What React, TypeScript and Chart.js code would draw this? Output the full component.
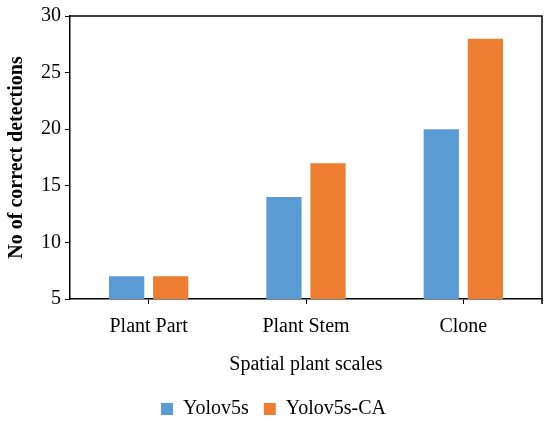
import { useRef, useEffect } from 'react';
import { Chart, registerables, Plugin } from 'chart.js';

Chart.register(...registerables);

const categories = ['Plant Part', 'Plant Stem', 'Clone'];
const yolov5s = [7, 14, 20];
const yolov5sCA = [7, 17, 28];

const FONT = "'Liberation Serif', 'DejaVu Serif', serif";

// box round the plot area (top and right edges)
const frame: Plugin<'bar'> = {
    id: 'frame',
    afterDraw(chart) {
        const { ctx, chartArea } = chart;
        ctx.save();
        ctx.strokeStyle = '#000';
        ctx.lineWidth = 1.5;
        ctx.beginPath();
        ctx.moveTo(chartArea.left, chartArea.top);
        ctx.lineTo(chartArea.right, chartArea.top);
        ctx.lineTo(chartArea.right, chartArea.bottom + 5);
        ctx.stroke();
        ctx.restore();
    },
};

const App = () => {
    const canvasRef = useRef<HTMLCanvasElement | null>(null);
    const chartRef = useRef<Chart<'bar'> | null>(null);

    useEffect(() => {
        document.body.style.margin = '0';
        if (!canvasRef.current) return;
        const ctx = canvasRef.current.getContext('2d');
        if (!ctx) return;

        chartRef.current = new Chart(ctx, {
            type: 'bar',
            data: {
                labels: categories,
                datasets: [
                    {
                        label: 'Yolov5s',
                        data: yolov5s,
                        backgroundColor: '#5B9BD5',
                        categoryPercentage: 0.56,
                        barPercentage: 0.8,
                    },
                    {
                        label: 'Yolov5s-CA',
                        data: yolov5sCA,
                        backgroundColor: '#ED7D31',
                        categoryPercentage: 0.56,
                        barPercentage: 0.8,
                    },
                ],
            },
            options: {
                animation: false,
                responsive: false,
                layout: { padding: { top: 5, right: 8, left: 5, bottom: -4 } },
                plugins: {
                    legend: {
                        position: 'bottom',
                        labels: {
                            boxWidth: 12,
                            boxHeight: 12,
                            color: '#000',
                            padding: 15,
                            font: { family: FONT, size: 20 },
                        },
                    },
                    tooltip: { enabled: false },
                },
                scales: {
                    x: {
                        grid: {
                            display: true,
                            drawOnChartArea: false,
                            offset: false,
                            tickLength: 5,
                            color: '#000',
                        },
                        border: { color: '#000', width: 1.5 },
                        ticks: {
                            color: '#000',
                            padding: 11,
                            font: { family: FONT, size: 20 },
                        },
                        title: {
                            display: true,
                            text: 'Spatial plant scales',
                            color: '#000',
                            padding: { top: 3, bottom: 7 },
                            font: { family: FONT, size: 20 },
                        },
                    },
                    y: {
                        min: 5,
                        max: 30,
                        grid: {
                            display: true,
                            drawOnChartArea: false,
                            tickLength: 5,
                            color: '#000',
                        },
                        border: { color: '#000', width: 1.5 },
                        ticks: {
                            stepSize: 5,
                            color: '#000',
                            padding: 4,
                            font: { family: FONT, size: 20 },
                        },
                        title: {
                            display: true,
                            text: 'No of correct detections',
                            color: '#000',
                            padding: { top: 0, bottom: 8 },
                            font: { family: FONT, size: 20, weight: 'bold' },
                        },
                    },
                },
            },
            plugins: [frame],
        });

        return () => {
            chartRef.current?.destroy();
        };
    }, []);

    return (
        <div style={{ width: 550, height: 425, background: '#fff' }}>
            <canvas ref={canvasRef} width={550} height={425} />
        </div>
    );
};

export default App;
